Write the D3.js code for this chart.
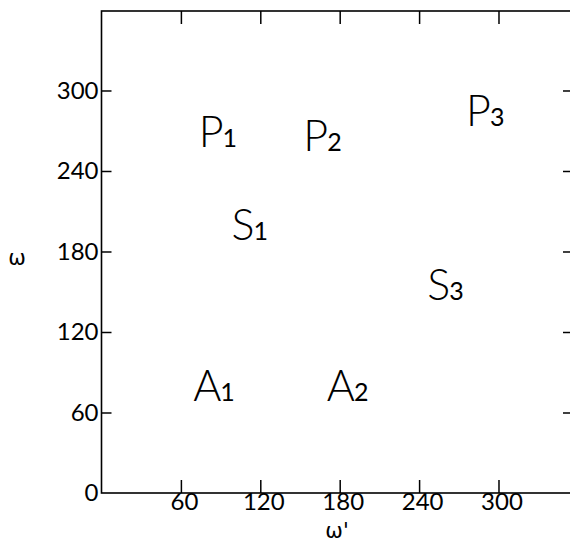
<!DOCTYPE html>
<html>
<head>
<meta charset="utf-8">
<script src="https://cdn.jsdelivr.net/npm/d3@7"></script>
<style>
  body { margin: 0; background: #fff; }
  text { fill: #000; }
</style>
</head>
<body>
<div id="chart-area"></div>
<script>
// tick values
const xTicks = [60, 120, 180, 240, 300]
const yTicks = [0, 60, 120, 180, 240, 300]
const frameTicks = [60, 120, 180, 240, 300]

// region labels: letter, subscript, position (omega', omega)
const letters = ["P", "P", "P", "S", "S", "A", "A"]
const subs = ["1", "2", "3", "1", "3", "1", "2"]
const omegaPrime = [88, 167, 290, 112, 260, 85, 186]
const omega = [269, 266, 285, 200, 155, 80, 80]

const WIDTH = 570
const HEIGHT = 543
const FRAME = { LEFT: 101.5, RIGHT: 573, TOP: 11, BOTTOM: 493 }

const svg = d3.select("#chart-area").append("svg")
	.attr("width", WIDTH)
	.attr("height", HEIGHT)

const x = d3.scaleLinear()
	.domain([0, 300])
	.range([FRAME.LEFT, FRAME.LEFT + 300 * 1.3233])

const y = d3.scaleLinear()
	.domain([0, 300])
	.range([FRAME.BOTTOM, FRAME.BOTTOM - 300 * 1.3417])

const tickFont = "Lato, 'Liberation Sans', sans-serif"

// frame
svg.append("rect")
	.attr("x", FRAME.LEFT)
	.attr("y", FRAME.TOP)
	.attr("width", FRAME.RIGHT - FRAME.LEFT)
	.attr("height", FRAME.BOTTOM - FRAME.TOP)
	.attr("fill", "none")
	.attr("stroke", "#000")
	.attr("stroke-width", 1.6)

function styleAxis(sel) {
	sel.select(".domain").remove()
	sel.selectAll(".tick line").attr("stroke", "#000").attr("stroke-width", 1.5)
	sel.selectAll(".tick text")
		.attr("font-family", tickFont)
		.attr("font-size", "24px")
		.attr("fill", "#000")
}

// left axis
const yAxis = svg.append("g")
	.attr("transform", `translate(${FRAME.LEFT}, 0)`)
	.call(d3.axisLeft(y).tickValues(yTicks).tickSize(-10).tickPadding(3).tickSizeOuter(0))
styleAxis(yAxis)
yAxis.selectAll(".tick").filter(d => d === 0).select("line").remove()

// bottom axis
const xAxis = svg.append("g")
	.attr("transform", `translate(0, ${FRAME.BOTTOM})`)
	.call(d3.axisBottom(x).tickValues(xTicks).tickSize(-13).tickPadding(0).tickSizeOuter(0))
styleAxis(xAxis)
xAxis.selectAll(".tick text").attr("dx", 3)

// top axis (ticks only)
const topAxis = svg.append("g")
	.attr("transform", `translate(0, ${FRAME.TOP})`)
	.call(d3.axisTop(x).tickValues(frameTicks).tickSize(-13).tickFormat("").tickSizeOuter(0))
styleAxis(topAxis)

// right axis (ticks only)
const rightAxis = svg.append("g")
	.attr("transform", `translate(${FRAME.RIGHT}, 0)`)
	.call(d3.axisRight(y).tickValues(frameTicks).tickSize(-10).tickFormat("").tickSizeOuter(0))
styleAxis(rightAxis)

// axis titles
svg.append("text")
	.attr("x", 17)
	.attr("y", y(170))
	.attr("text-anchor", "middle")
	.attr("font-family", "'DejaVu Sans', sans-serif")
	.attr("font-size", "21px")
	.text("ω")

svg.append("text")
	.attr("x", x(178))
	.attr("y", 538)
	.attr("text-anchor", "middle")
	.attr("font-family", "'DejaVu Sans', sans-serif")
	.attr("font-size", "21px")
	.text("ω'")

// region labels
const labelData = letters.map((l, i) => ({ l, s: subs[i], wp: omegaPrime[i], w: omega[i] }))

const lab = svg.selectAll(".region")
	.data(labelData)
	.enter().append("text")
	.attr("class", "region")
	.attr("x", d => x(d.wp))
	.attr("y", d => y(d.w) + 15)
	.attr("text-anchor", "middle")
	.attr("font-family", "Lato, 'Liberation Sans', sans-serif")
	.attr("font-weight", 300)
	.attr("font-size", "43px")

lab.append("tspan").text(d => d.l)
lab.append("tspan")
	.attr("dx", -1)
	.attr("font-size", "25px")
	.attr("font-weight", 400)
	.text(d => d.s)
</script>
</body>
</html>
